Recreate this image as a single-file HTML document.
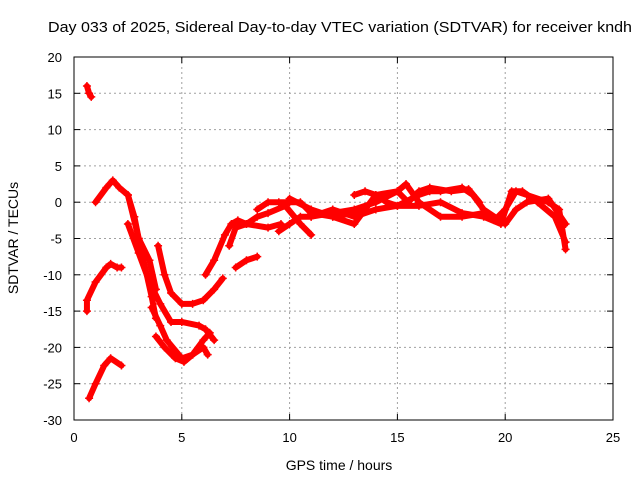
<!DOCTYPE html>
<html><head><meta charset="utf-8"><style>
body{margin:0;background:#fff}
svg text{font-family:"Liberation Sans",sans-serif;font-size:13px;fill:#000}
</style></head><body>
<svg width="640" height="480" xmlns="http://www.w3.org/2000/svg">
<rect width="640" height="480" fill="#fff"/>
<text x="48" y="32" style="font-size:15px" textLength="584" lengthAdjust="spacingAndGlyphs">Day 033 of 2025, Sidereal Day-to-day VTEC variation (SDTVAR) for receiver kndh</text>
<g id="grid"></g><g id="axes"></g><g id="series"></g>
<text x="339" y="470" text-anchor="middle" style="font-size:14px">GPS time / hours</text>
<text transform="translate(18,238) rotate(-90)" text-anchor="middle" style="font-size:14px">SDTVAR / TECUs</text>
</svg>
<script>
const xTicks=[0,5,10,15,20,25];
const yTicks=[20,15,10,5,0,-5,-10,-15,-20,-25,-30];
const track1=[[0.6,16],[0.7,15],[0.8,14.5]];
const track2=[[0.6,-15],[0.6,-13.5],[1,-11],[1.5,-9],[1.7,-8.5],[2,-9],[2.2,-9]];
const track3=[[1,0],[1.5,2],[1.8,3],[2.1,2],[2.5,1],[2.8,-2],[3,-5],[3.3,-9],[3.6,-13],[3.8,-16]];
const track4=[[0.7,-27],[1,-25],[1.4,-22.5],[1.7,-21.5],[2.2,-22.5]];
const track5=[[2.5,-3],[3,-7],[3.5,-11],[4,-14],[4.5,-16.5],[5,-16.5],[5.8,-17],[6.1,-17.5],[6.5,-19]];
const track6=[[2.5,1],[3,-5],[3.5,-8],[3.8,-12]];
const track7=[[3.9,-6],[4.2,-10],[4.5,-12.5],[5,-14],[5.5,-14],[6,-13.5],[6.5,-12],[6.9,-10.5]];
const track8=[[3.6,-14.5],[4,-17],[4.3,-19],[5,-21.5],[5.5,-21],[6,-20],[6.2,-21]];
const track9=[[3.8,-18.5],[4.2,-20],[4.7,-21.5],[5.1,-22],[5.5,-21],[6,-19],[6.3,-18]];
const track10=[[6.1,-10],[6.5,-8],[7,-4.5],[7.3,-3],[7.6,-2.5],[8,-3],[9,-3.5],[9.6,-3]];
const track11=[[7.2,-6],[7.5,-3.5],[8,-3],[8.5,-2],[9,-1.5],[9.8,-0.5],[10.5,-3],[11,-4.5]];
const track12=[[7.5,-9],[8,-8],[8.5,-7.5]];
const track13=[[8.5,-1],[9,0],[9.5,0],[10,0],[10.5,0],[11,-1.5],[12,-2],[13,-1.5],[13.5,-1]];
const track14=[[9.5,-4],[10,-3],[10.5,-2],[11,-2],[12,-1.5],[13,-1],[14,0],[15,1.5],[15.4,2.5],[16,0],[17,-2],[18,-2],[19,-1.5],[19.5,-2.5],[20,-1],[20.5,1.5],[21,1],[22,0],[22.5,-1],[22.8,-6.5]];
const track15=[[10,0.5],[11,-1],[12,-2],[13,-3],[13.5,-1],[14,1],[14.5,0],[15,-0.5],[16,1],[16.5,1.5],[17,1.5],[18,2],[18.5,1],[19,-1],[20,-3],[20.5,-1],[21,0],[22,0.5],[22.8,-3]];
const track16=[[11,-2],[12,-1],[13,-2],[14,-1],[15,-0.5],[16,-0.5],[17,0],[18,-1.5],[19,-2],[19.8,-3],[20.3,1.5],[20.8,1.5],[21.5,0],[22.3,-2],[22.8,-5.5]];
const track17=[[13,1],[13.5,1.5],[14,1],[15,1.5],[15.5,0],[16,1.5],[16.5,2],[17.5,1.5],[18.3,1.8],[18.8,0]];
const tracks=[track1,track2,track3,track4,track5,track6,track7,track8,track9,track10,track11,track12,track13,track14,track15,track16,track17];
const L=74,R=613,T=57,B=420;
const X=v=>L+(v-0)/25*(R-L), Y=v=>T+(20-v)/50*(B-T);
const NS="http://www.w3.org/2000/svg";
function mk(tag,attrs,parent){const e=document.createElementNS(NS,tag);for(const k in attrs)e.setAttribute(k,attrs[k]);parent.appendChild(e);return e;}
const grid=document.getElementById('grid'),axes=document.getElementById('axes'),ser=document.getElementById('series');
xTicks.forEach(t=>{const x=X(t);
 if(t>0&&t<25){const g=mk('line',{x1:x,x2:x,y1:T,y2:B,stroke:'#a0a0a0','stroke-dasharray':'2,3'},grid);}
 mk('line',{x1:x,x2:x,y1:B,y2:B-6,stroke:'#000'},axes);mk('line',{x1:x,x2:x,y1:T,y2:T+6,stroke:'#000'},axes);
 const tx=mk('text',{x:x,y:B+22,'text-anchor':'middle'},axes);tx.textContent=t;
 });
yTicks.forEach(t=>{const y=Y(t);
 if(t<20&&t>-30){const g=mk('line',{x1:L,x2:R,y1:y,y2:y,stroke:'#a0a0a0','stroke-dasharray':'2,3'},grid);}
 mk('line',{x1:L,x2:L+6,y1:y,y2:y,stroke:'#000'},axes);mk('line',{x1:R,x2:R-6,y1:y,y2:y,stroke:'#000'},axes);
 const tx=mk('text',{x:L-12,y:y+5,'text-anchor':'end'},axes);tx.textContent=t;
 });
const fr=mk('rect',{x:L,y:T,width:R-L,height:B-T,fill:'none',stroke:'#000'},axes);

tracks.forEach(tr=>{
 const p=mk('polyline',{points:tr.map(d=>X(d[0])+','+Y(d[1])).join(' '),fill:'none',stroke:'#f00','stroke-width':6,'stroke-linejoin':'round','stroke-linecap':'round'},ser);
 
 
 tr.forEach(d=>{const x=X(d[0]),y=Y(d[1]);
  const m=mk('path',{d:`M${x-4},${y}H${x+4}M${x},${y-4}V${y+4}`,stroke:'#f00','stroke-width':1.5},ser);
  
  });
});
</script>
</body></html>
